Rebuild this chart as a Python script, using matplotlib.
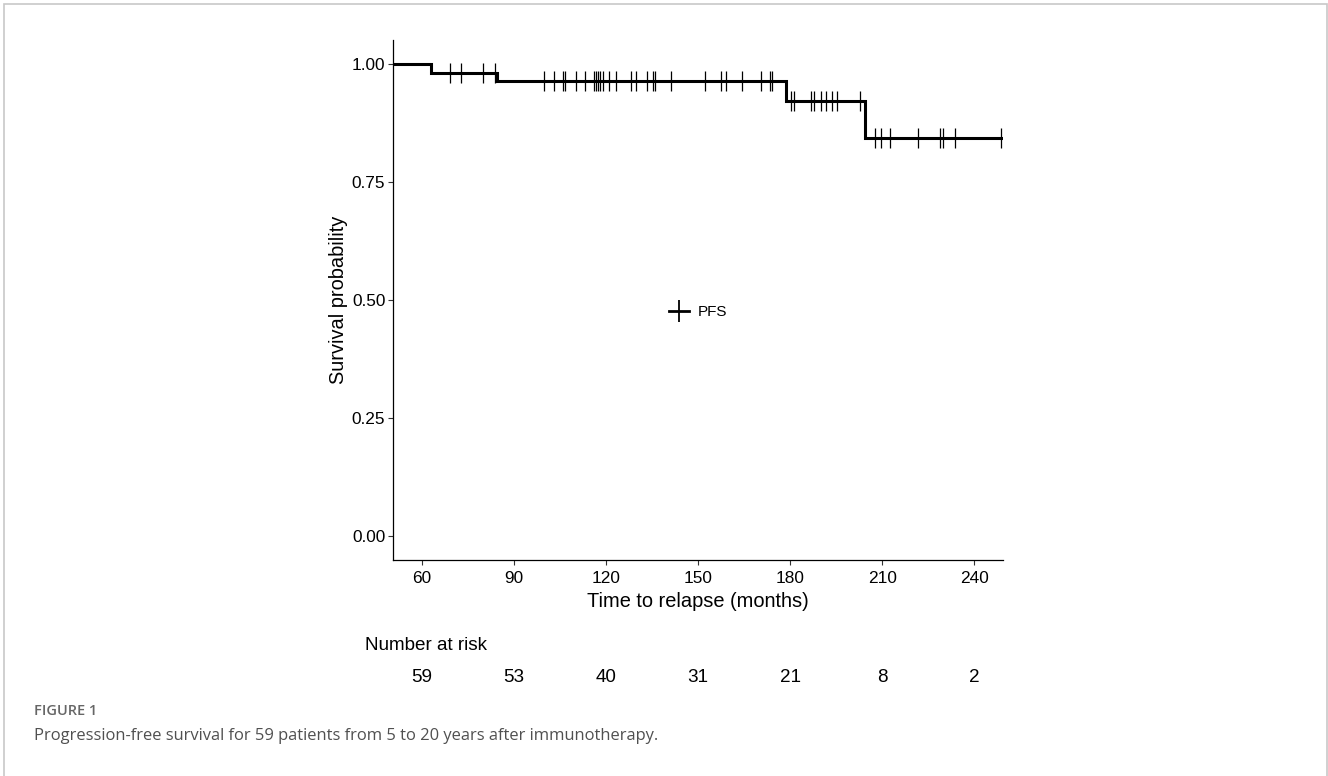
import numpy as np
import matplotlib
matplotlib.use("Agg")
import matplotlib.pyplot as plt
import matplotlib.transforms as mtransforms
from matplotlib.lines import Line2D
from matplotlib.patches import Rectangle

plt.rcParams['font.family'] = ['Liberation Sans', 'DejaVu Sans']

# Kaplan-Meier steps (months, survival after step)
step_times = [0, 62.8, 84.4, 178.7, 204.5]
step_surv = [1.0, 0.981, 0.963, 0.920, 0.843]
end_time = 248.9

# censored observations (months)
censor_times = [69.1, 72.7, 79.9, 83.8,
                99.8, 103.1, 106.0, 106.7, 110.2, 113.2, 116.1, 116.8, 117.4,
                118.1, 119.1, 121.0, 123.3, 128.2, 129.8, 133.4, 135.4, 136.0,
                141.2, 152.3, 157.5, 159.1, 164.3, 170.5, 173.3, 174.1,
                180.3, 181.1, 186.8, 187.9, 189.9, 191.7, 193.5, 195.3, 202.7,
                207.8, 209.7, 212.7, 221.7, 228.7, 229.8, 233.7, 248.9]

risk_times = [60, 90, 120, 150, 180, 210, 240]
risk_counts = [59, 53, 40, 31, 21, 8, 2]

x_ticks = [60, 90, 120, 150, 180, 210, 240]
y_ticks = [0.0, 0.25, 0.5, 0.75, 1.0]

fig = plt.figure(figsize=(13.28, 7.76), dpi=100)
ax = fig.add_axes([393 / 1328, 1 - 560 / 776, 610 / 1328, 520 / 776])

# step curve
xs = step_times + [end_time]
ys = step_surv + [step_surv[-1]]
ax.step(xs, ys, where='post', color='black', lw=2.2, solid_joinstyle='miter')

# censor marks on the curve
idx = np.searchsorted(step_times, censor_times, side='right') - 1
cens_y = np.array(step_surv)[idx]
ax.plot(censor_times, cens_y, ls='none', marker='|', color='black',
        ms=14, mew=0.9)

ax.set_xlim(50.5, 249.4)
ax.set_ylim(-0.05, 1.05)
ax.set_xticks(x_ticks)
ax.set_xticklabels([str(t) for t in x_ticks])
ax.set_yticks(y_ticks)
ax.set_yticklabels(['%.2f' % v for v in y_ticks])
ax.tick_params(labelsize=12.4, length=3.5, width=0.8, color='#333333',
               labelcolor='black')
ax.tick_params(axis='x', pad=4.5)
ax.tick_params(axis='y', pad=2)
for s in ['top', 'right']:
    ax.spines[s].set_visible(False)
for s in ['left', 'bottom']:
    ax.spines[s].set_linewidth(0.9)

ax.set_xlabel('Time to relapse (months)', fontsize=14.4, labelpad=4)
ax.set_ylabel('Survival probability', fontsize=14.4, labelpad=3)

handle = Line2D([], [], color='black', lw=2, marker='|', ms=16, mew=1.3)
ax.legend([handle], ['PFS'], loc='center', bbox_to_anchor=(0.5, 0.477),
          frameon=False, fontsize=11, handlelength=1.3, handletextpad=0.6)

# number at risk table
trans = mtransforms.blended_transform_factory(ax.transData, fig.transFigure)
fig.text(365 / 1328, 1 - 646 / 776, 'Number at risk', fontsize=13.6,
         ha='left', va='center')
for t, n in zip(risk_times, risk_counts):
    ax.text(t, 1 - 678 / 776, str(n), transform=trans, fontsize=13.6,
            ha='center', va='center', clip_on=False)

# caption
fig.text(34 / 1328, 1 - 711 / 776, 'FIGURE 1', fontsize=10.5,
         family=['Open Sans', 'DejaVu Sans'], color='#666666',
         weight='semibold', ha='left', va='center')
fig.text(34 / 1328, 1 - 736 / 776,
         'Progression-free survival for 59 patients from 5 to 20 years after immunotherapy.',
         fontsize=11.9, family=['Open Sans', 'DejaVu Sans'], color='#505050',
         ha='left', va='center')

# page frame
fig.add_artist(Rectangle((4 / 1328, -0.01), 1323 / 1328, 1 - 4 / 776 + 0.01,
                         transform=fig.transFigure, fill=False,
                         edgecolor='#c8c8c8', lw=1.2))

fig.savefig('out.png', dpi=100)
